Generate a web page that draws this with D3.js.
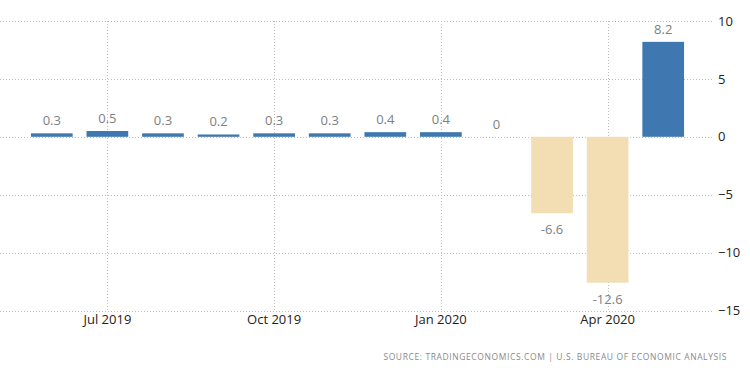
<!DOCTYPE html>
<html>
<head>
<meta charset="utf-8">
<script src="https://cdn.jsdelivr.net/npm/d3@7"></script>
<style>
  html, body { margin: 0; padding: 0; background: #fff; }
  svg { display: block; font-family: "Open Sans", "DejaVu Sans", Arial, sans-serif; }
</style>
</head>
<body>
<svg id="chart" width="750" height="373"></svg>
<script>
const months = ["2019-06","2019-07","2019-08","2019-09","2019-10","2019-11","2019-12","2020-01","2020-02","2020-03","2020-04","2020-05"];
const values = [0.3, 0.5, 0.3, 0.2, 0.3, 0.3, 0.4, 0.4, 0, -6.6, -12.6, 8.2];
const xTickMonths = ["2019-07","2019-10","2020-01","2020-04"];
const xTickLabels = ["Jul 2019","Oct 2019","Jan 2020","Apr 2020"];
const yTicks = [10, 5, 0, -5, -10, -15];
const sourceText = "SOURCE: TRADINGECONOMICS.COM | U.S. BUREAU OF ECONOMIC ANALYSIS";

const svg = d3.select("#chart");
const gridRight = 713;

const x = d3.scaleBand().domain(months).range([24, 691]).paddingInner(0.25).paddingOuter(0.125);
const y = d3.scaleLinear().domain([-15, 10]).range([310.5, 21]);

// horizontal gridlines
svg.append("g").selectAll("line").data(yTicks).join("line")
  .attr("x1", 0).attr("x2", gridRight)
  .attr("y1", d => Math.round(y(d)) + 0.5).attr("y2", d => Math.round(y(d)) + 0.5)
  .attr("stroke", "#bdbdbd").attr("stroke-width", 1).attr("stroke-dasharray", "1,2");

// vertical gridlines
svg.append("g").selectAll("line").data(xTickMonths).join("line")
  .attr("x1", d => Math.round(x(d) + x.bandwidth() / 2) + 0.5)
  .attr("x2", d => Math.round(x(d) + x.bandwidth() / 2) + 0.5)
  .attr("y1", y(10)).attr("y2", y(-15))
  .attr("stroke", "#bdbdbd").attr("stroke-width", 1).attr("stroke-dasharray", "1,2");

// bars
svg.append("g").selectAll("rect").data(months).join("rect")
  .attr("x", d => x(d))
  .attr("width", x.bandwidth())
  .attr("y", (d, i) => y(Math.max(0, values[i])))
  .attr("height", (d, i) => Math.abs(y(values[i]) - y(0)))
  .attr("fill", (d, i) => values[i] < 0 ? "#f3deb4" : "#3f78b1");

// value labels
svg.append("g").selectAll("text").data(months).join("text")
  .attr("x", d => x(d) + x.bandwidth() / 2)
  .attr("y", (d, i) => values[i] < 0 ? y(values[i]) + 21 : y(values[i]) - 8)
  .attr("text-anchor", "middle")
  .attr("font-size", 13)
  .attr("fill", "#808080")
  .text((d, i) => String(values[i]));

// y axis labels
const yAxis = d3.axisRight(y).tickValues(yTicks).tickSize(0).tickPadding(0).tickFormat(d3.format("d"));
const ya = svg.append("g").attr("transform", `translate(718,0)`).call(yAxis);
ya.select(".domain").remove();
ya.selectAll("text").attr("font-size", 13).attr("fill", "#222")
  .attr("font-family", "'Open Sans', 'DejaVu Sans', Arial, sans-serif");

// x axis labels
const xAxis = d3.axisBottom(x).tickValues(xTickMonths).tickSize(0).tickPadding(0)
  .tickFormat(d => xTickLabels[xTickMonths.indexOf(d)]);
const xa = svg.append("g").attr("transform", `translate(0,315)`).call(xAxis);
xa.select(".domain").remove();
xa.selectAll("text").attr("font-size", 13).attr("fill", "#222")
  .attr("font-family", "'Open Sans', 'DejaVu Sans', Arial, sans-serif");

// source
svg.append("text")
  .attr("x", 727).attr("y", 360)
  .attr("text-anchor", "end")
  .attr("font-size", 8.5)
  .attr("letter-spacing", 0.6)
  .attr("fill", "#8a8a8a")
  .text(sourceText);
</script>
</body>
</html>
